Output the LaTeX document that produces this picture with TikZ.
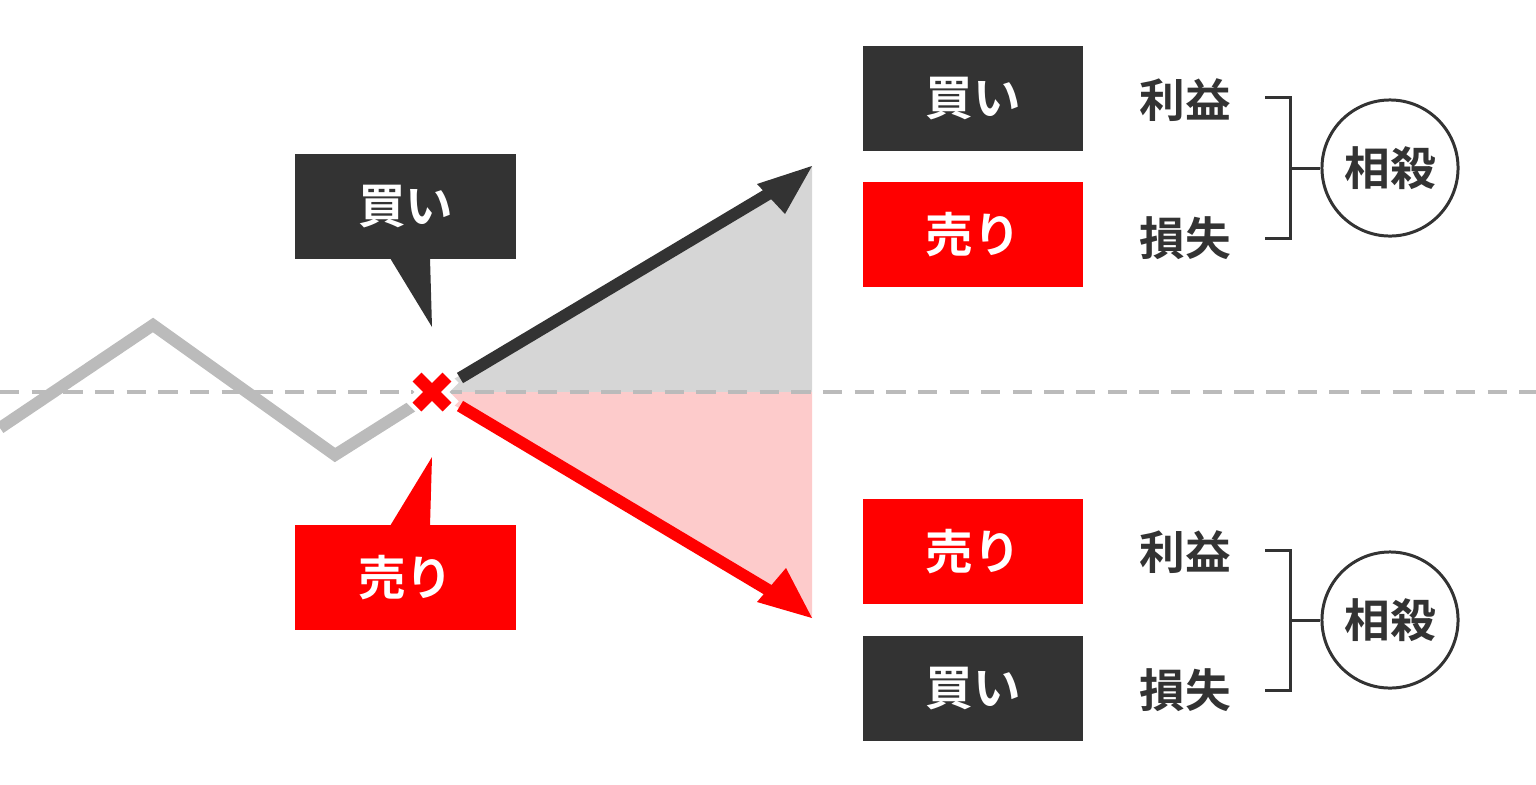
\documentclass[tikz,border=0pt]{standalone}
\usepackage{fontspec}
\newfontfamily\jp{Noto Sans CJK JP Bold}
\definecolor{dgray}{HTML}{333333}
\definecolor{lgray}{HTML}{BBBBBB}
\definecolor{pinkarea}{HTML}{FDCBCB}
\definecolor{grayarea}{HTML}{D6D6D6}
\tikzset{
  box/.style={minimum width=2.2cm, minimum height=1.05cm, inner sep=0pt, text=white, font=\jp\fontsize{13.5}{15}\selectfont},
  lbl/.style={text=dgray, font=\jp\fontsize{13}{15}\selectfont},
  brk/.style={draw=dgray, line width=0.85pt},
}
\begin{document}
\begin{tikzpicture}[x=0.01cm,y=-0.01cm]
        \useasboundingbox (0,0) rectangle (1536,784);
        % shaded areas
        \fill[grayarea] (432,392) -- (812,166) -- (812,392) -- cycle;
        \fill[pinkarea] (432,392) -- (812,392) -- (812,618) -- cycle;
        \draw[lgray, line width=1.4pt, dash pattern=on 5.5pt off 3.5pt] (0,392) -- (1536,392);
        \draw[lgray, line width=3.4pt, line join=miter] (0,428) -- (153,325) -- (335,455) -- (430,395);
        % arrows
        \coordinate (o) at (432,392);
        \coordinate (up) at (780,187);
        \coordinate (dn) at (780,597);
        \draw[dgray, line width=3.4pt] (460,378) -- (up);
        \fill[dgray] (812,166) -- (757,184) -- (785,214) -- cycle;
        \draw[red, line width=3.4pt] (460,406) -- (dn);
        \fill[red] (812,618) -- (757,602) -- (786,568) -- cycle;
        % cross
        \draw[white, line width=7pt] (414,374) -- (450,410) (414,410) -- (450,374);
        \draw[red, line width=3.6pt] (417,377) -- (447,407) (417,407) -- (447,377);
        % callouts
        \node[box, fill=dgray] (cb) at (405.5,206.5) {買い};
        \fill[dgray] (390,258) -- (430,258) -- (432,327) -- cycle;
        \node[box, fill=red] (cs) at (405.5,577.5) {売り};
        \fill[red] (390,526) -- (430,526) -- (432,457) -- cycle;
        % right side
        \node[box, fill=dgray] (b1) at (973,98.5) {買い};
        \node[box, fill=red] (s1) at (973,234.5) {売り};
        \node[box, fill=red] (s2) at (973,551.5) {売り};
        \node[box, fill=dgray] (b2) at (973,688.5) {買い};
        \node[lbl] (p1) at (1185,100) {利益};
        \node[lbl] (l1) at (1185,238) {損失};
        \node[lbl] (p2) at (1185,552) {利益};
        \node[lbl] (l2) at (1185,690) {損失};
        \node[circle, draw=dgray, line width=0.85pt, minimum size=1.36cm, lbl] (c1) at (1390,168) {相殺};
        \node[circle, draw=dgray, line width=0.85pt, minimum size=1.36cm, lbl] (c2) at (1390,620) {相殺};
        \draw[brk] (1265,97) -| (1290,238) -- (1265,238);
        \draw[brk] (1290,168) -- (c1);
        \draw[brk] (1265,550) -| (1290,690) -- (1265,690);
        \draw[brk] (1290,620) -- (c2);
\end{tikzpicture}
\end{document}
